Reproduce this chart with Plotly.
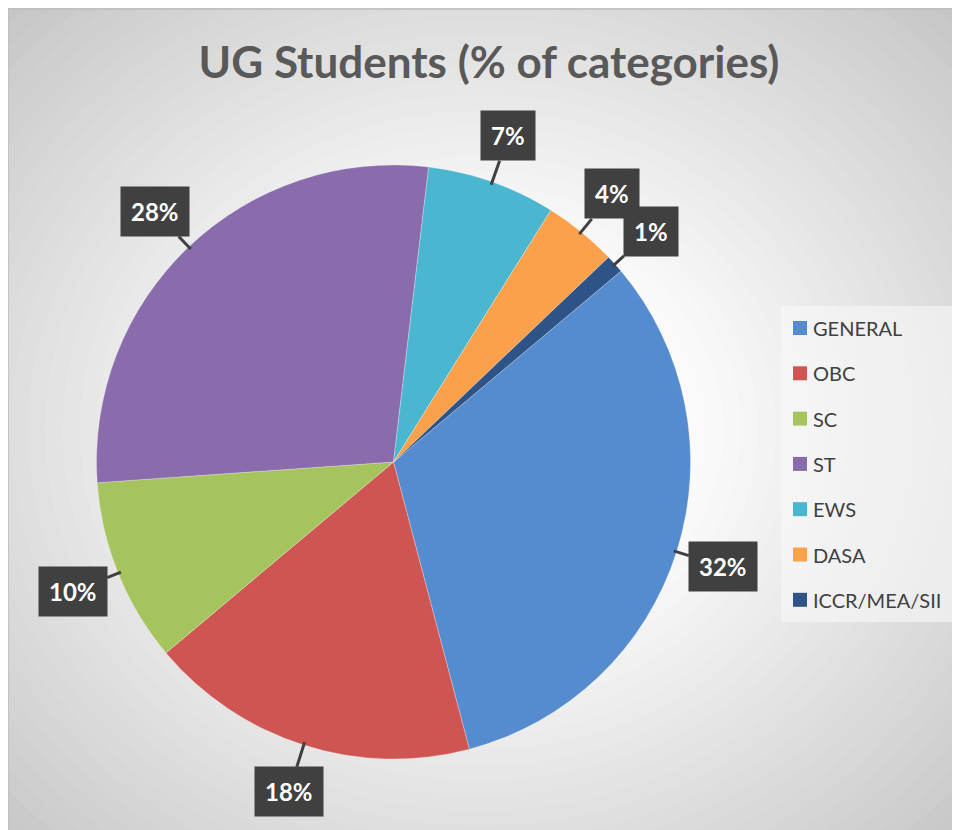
import numpy as np
import plotly.graph_objects as go

W, H = 960, 830
OFF = 8  # page body margin, reference coords are page coords

categories = ['GENERAL', 'OBC', 'SC', 'ST', 'EWS', 'DASA', 'ICCR/MEA/SII']
shares = [32, 18, 10, 28, 7, 4, 1]
slice_colors = ['#558BCF', '#CE5552', '#A6C45E', '#8A6CAC', '#4BB6D0', '#FBA04B', '#2E5487']

start_angle = 50  # degrees clockwise from 12 o'clock
cx, cy, R = 393.5, 462, 297  # pie centre / radius (page pixels)


def px(x):
    return (x - OFF) / W


def py(y):
    return 1 - (y - OFF) / H


fig = go.Figure()

fig.add_trace(go.Pie(
    labels=categories,
    values=shares,
    sort=False,
    direction='clockwise',
    rotation=start_angle,
    marker=dict(colors=slice_colors, line=dict(color='rgba(255,255,255,0.5)', width=0.5)),
    textinfo='none',
    hoverinfo='label+percent',
    showlegend=False,
    domain=dict(x=[px(cx - R), px(cx + R)], y=[py(cy + R), py(cy - R)]),
))

# radial grey background
shapes = []
n = 40
gx, gy = 480, 430
for i in range(n):
    t = 1 - i / n
    f = 1.45 * t
    d = max(0.0, (t - 0.25) / 0.75)
    g = int(round(255 - (255 - 196) * d ** 1.1))
    shapes.append(dict(
        type='circle', xref='paper', yref='paper', layer='below',
        x0=px(gx - 480 * f), x1=px(gx + 480 * f),
        y0=py(gy + 420 * f), y1=py(gy - 420 * f),
        fillcolor=f'rgb({g},{g},{g})', line=dict(width=0),
    ))
shapes.append(dict(type='rect', xref='paper', yref='paper', layer='below',
                   x0=0, x1=1.01, y0=-0.01, y1=py(9),
                   line=dict(color='#bdbdbd', width=1.5)))

# legend box, drawn by hand so the spacing matches
shapes.append(dict(type='rect', xref='paper', yref='paper', layer='below',
                   x0=px(781), x1=px(955), y0=py(622), y1=py(306),
                   fillcolor='rgba(248,248,248,0.6)', line=dict(width=0)))

annotations = []
item_gap = 45.3
for i, (name, col) in enumerate(zip(categories, slice_colors)):
    yc = 328 + i * item_gap
    shapes.append(dict(type='rect', xref='paper', yref='paper',
                       x0=px(793), x1=px(807), y0=py(yc + 7), y1=py(yc - 7),
                       fillcolor=col, line=dict(width=0)))
    annotations.append(dict(x=px(811), y=py(yc), xref='paper', yref='paper',
                            text=name, showarrow=False, xanchor='left', yanchor='middle',
                            font=dict(family='Lato', size=20, color='#404040')))

# data labels as dark callouts
cum = np.cumsum([0] + shares[:-1])
total = sum(shares)
for val, c0 in zip(shares, cum):
    mid = np.deg2rad(start_angle + (c0 + val / 2) / total * 360)
    sx, sy = np.sin(mid), -np.cos(mid)
    tip_x, tip_y = cx + R * 0.99 * sx, cy + R * 0.99 * sy
    off = R * 0.175
    annotations.append(dict(
        x=px(tip_x), y=py(tip_y), xref='paper', yref='paper',
        text=f'<b>{val}%</b>', showarrow=True, arrowhead=0, arrowwidth=3,
        arrowcolor='#404040', ax=off * sx, ay=off * sy, standoff=0,
        font=dict(family='Lato', size=24, color='white'),
        bgcolor='#404040', borderpad=10,
    ))

fig.update_layout(
    width=W, height=H,
    margin=dict(l=0, r=0, t=0, b=0),
    paper_bgcolor='white',
    plot_bgcolor='rgba(0,0,0,0)',
    shapes=shapes,
    annotations=annotations,
    title=dict(text='<b>UG Students (% of categories)</b>', x=px(489), xanchor='center',
               y=py(63), yanchor='middle',
               font=dict(family='Lato', size=44, color='#595959')),
    showlegend=False,
)

fig.write_html('out.html')
